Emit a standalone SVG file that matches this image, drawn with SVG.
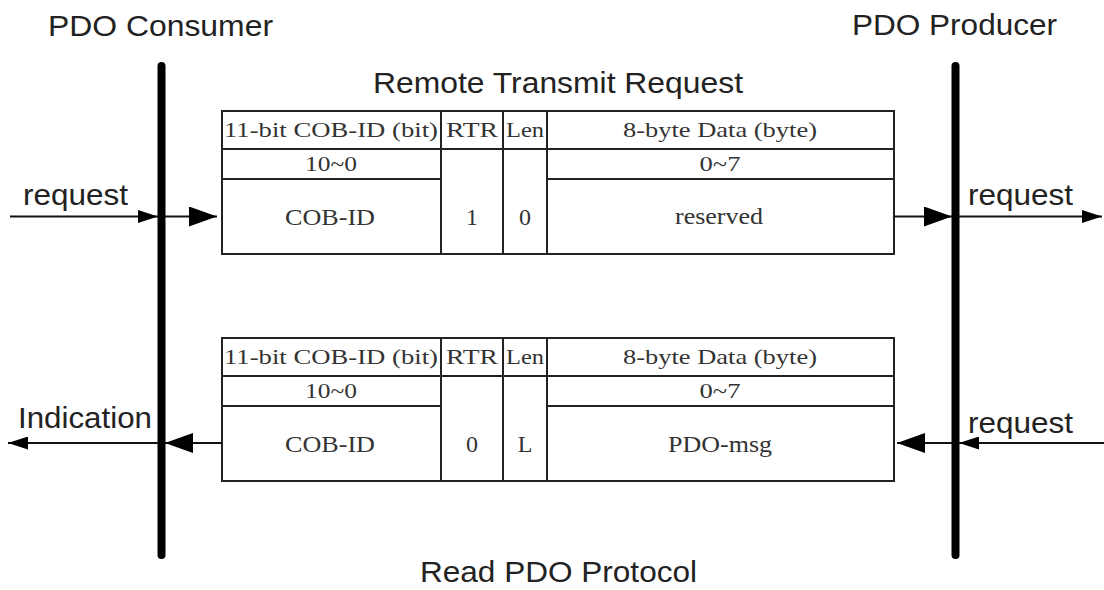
<svg xmlns="http://www.w3.org/2000/svg" width="1104" height="590" viewBox="0 0 1104 590">
<style>
.sans{font-family:"Liberation Sans",Arial,sans-serif;font-size:30px;fill:#222}
.serif{font-family:"Liberation Serif","Times New Roman",serif;fill:#333;text-anchor:middle}
.h{font-size:22px}
.b{font-size:24px}
.cell{fill:none;stroke:#222;stroke-width:2}
.bar{stroke:#000;stroke-width:8;stroke-linecap:round}
.conn{stroke:#111;stroke-width:2;fill:none}
</style>
<defs>
<marker id="big" viewBox="0 0 28 20" refX="28" refY="10" markerWidth="28" markerHeight="20" markerUnits="userSpaceOnUse" orient="auto"><path d="M0,0 L28,10 L0,20 Z" fill="#000"/></marker>
<marker id="small" viewBox="0 0 20 13" refX="20" refY="6.5" markerWidth="20" markerHeight="13" markerUnits="userSpaceOnUse" orient="auto"><path d="M0,0 L20,6.5 L0,13 Z" fill="#000"/></marker>
</defs>
<rect width="1104" height="590" fill="#fff"/>

<g id="consumer">
<text class="sans" x="48" y="36" textLength="225" lengthAdjust="spacingAndGlyphs">PDO Consumer</text>
<line class="bar" x1="161.5" y1="66" x2="161.5" y2="555"/>
</g>

<g id="producer">
<text class="sans" x="852" y="35" textLength="205" lengthAdjust="spacingAndGlyphs">PDO Producer</text>
<line class="bar" x1="955.5" y1="66" x2="955.5" y2="555"/>
</g>

<g id="title-rtr">
<text class="sans" x="373" y="93" textLength="370" lengthAdjust="spacingAndGlyphs">Remote Transmit Request</text>
</g>

<g id="frame-rtr">
<rect class="cell" x="222" y="111" width="672" height="143"/>
<line class="cell" x1="222" y1="149" x2="894" y2="149"/>
<line class="cell" x1="222" y1="179" x2="441" y2="179"/>
<line class="cell" x1="547" y1="179" x2="894" y2="179"/>
<line class="cell" x1="441" y1="111" x2="441" y2="254"/>
<line class="cell" x1="503" y1="111" x2="503" y2="254"/>
<line class="cell" x1="547" y1="111" x2="547" y2="254"/>
<text class="serif h" x="331" y="137" textLength="214" lengthAdjust="spacingAndGlyphs">11-bit COB-ID (bit)</text>
<text class="serif h" x="472" y="137" textLength="52" lengthAdjust="spacingAndGlyphs">RTR</text>
<text class="serif h" x="525" y="137" textLength="38" lengthAdjust="spacingAndGlyphs">Len</text>
<text class="serif h" x="720" y="137" textLength="194" lengthAdjust="spacingAndGlyphs">8-byte Data (byte)</text>
<text class="serif h" x="331" y="171" textLength="52" lengthAdjust="spacingAndGlyphs">10~0</text>
<text class="serif h" x="720" y="171" textLength="41" lengthAdjust="spacingAndGlyphs">0~7</text>
<text class="serif b" x="330" y="225" textLength="90" lengthAdjust="spacingAndGlyphs">COB-ID</text>
<text class="serif b" x="472" y="225">1</text>
<text class="serif b" x="525" y="225">0</text>
<text class="serif b" x="719" y="224" textLength="88" lengthAdjust="spacingAndGlyphs">reserved</text>
</g>

<g id="frame-pdo">
<rect class="cell" x="222" y="338" width="672" height="143"/>
<line class="cell" x1="222" y1="376" x2="894" y2="376"/>
<line class="cell" x1="222" y1="406" x2="441" y2="406"/>
<line class="cell" x1="547" y1="406" x2="894" y2="406"/>
<line class="cell" x1="441" y1="338" x2="441" y2="481"/>
<line class="cell" x1="503" y1="338" x2="503" y2="481"/>
<line class="cell" x1="547" y1="338" x2="547" y2="481"/>
<text class="serif h" x="331" y="364" textLength="214" lengthAdjust="spacingAndGlyphs">11-bit COB-ID (bit)</text>
<text class="serif h" x="472" y="364" textLength="52" lengthAdjust="spacingAndGlyphs">RTR</text>
<text class="serif h" x="525" y="364" textLength="38" lengthAdjust="spacingAndGlyphs">Len</text>
<text class="serif h" x="720" y="364" textLength="194" lengthAdjust="spacingAndGlyphs">8-byte Data (byte)</text>
<text class="serif h" x="331" y="398" textLength="52" lengthAdjust="spacingAndGlyphs">10~0</text>
<text class="serif h" x="720" y="398" textLength="41" lengthAdjust="spacingAndGlyphs">0~7</text>
<text class="serif b" x="330" y="452" textLength="90" lengthAdjust="spacingAndGlyphs">COB-ID</text>
<text class="serif b" x="472" y="452">0</text>
<text class="serif b" x="525" y="452">L</text>
<text class="serif b" x="720" y="452" textLength="104" lengthAdjust="spacingAndGlyphs">PDO-msg</text>
</g>

<g id="title-read">
<text class="sans" x="420" y="582" textLength="277" lengthAdjust="spacingAndGlyphs">Read PDO Protocol</text>
</g>

<g id="labels">
<text class="sans" x="23" y="205" textLength="105" lengthAdjust="spacingAndGlyphs">request</text>
<text class="sans" x="968" y="205" textLength="105" lengthAdjust="spacingAndGlyphs">request</text>
<text class="sans" x="18" y="428" textLength="134" lengthAdjust="spacingAndGlyphs">Indication</text>
<text class="sans" x="968" y="433" textLength="105" lengthAdjust="spacingAndGlyphs">request</text>
</g>

<g id="connectors">
<line class="conn" x1="10" y1="216.5" x2="158" y2="216.5" marker-end="url(#small)"/>
<line class="conn" x1="165" y1="216.5" x2="217" y2="216.5" marker-end="url(#big)"/>
<line class="conn" x1="894" y1="216.5" x2="952" y2="216.5" marker-end="url(#big)"/>
<line class="conn" x1="959" y1="216.5" x2="1102" y2="216.5" marker-end="url(#small)"/>
<line class="conn" x1="1104" y1="443" x2="959" y2="443" marker-end="url(#small)"/>
<line class="conn" x1="952" y1="443" x2="897" y2="443" marker-end="url(#big)"/>
<line class="conn" x1="222" y1="443" x2="165" y2="443" marker-end="url(#big)"/>
<line class="conn" x1="158" y1="443" x2="8" y2="443" marker-end="url(#small)"/>
</g>
</svg>
